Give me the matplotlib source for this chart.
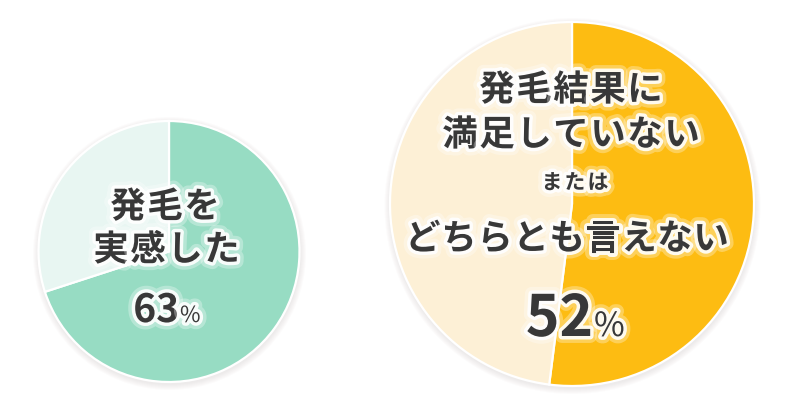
import matplotlib
matplotlib.use("Agg")
import matplotlib.pyplot as plt
import matplotlib.patheffects as pe
from matplotlib.patches import Circle

# ---- data ----
left_values = [70, 30]            # wedge shares as drawn
left_colors = ["#97dcc3", "#e8f6f2"]
left_lines = ["発毛を", "実感した"]
left_pct = "63"

right_values = [52, 48]
right_colors = ["#fdbc12", "#fdf0d6"]
right_lines = ["発毛結果に", "満足していない", "または", "どちらとも言えない"]
right_pct = "52"

W, H = 800, 410
plt.rcParams['font.family'] = ['Noto Sans CJK JP', 'DejaVu Sans']

fig = plt.figure(figsize=(W / 100, H / 100), dpi=100)
ax = fig.add_axes([0, 0, 1, 1])
ax.set_axis_off()

TXT = "#383838"
glow = [pe.Stroke(linewidth=10, foreground="white", alpha=0.3),
        pe.Stroke(linewidth=5, foreground="white", alpha=0.9),
        pe.Normal()]


def draw_pie(cx, cy, r, values, colors):
    # soft shadow
    for k in range(6, 0, -1):
        ax.add_patch(Circle((cx + 0.5, cy - 2), r + k, color="#8a7a7a",
                            alpha=0.025, lw=0, zorder=0))
    ax.pie(values, colors=colors, startangle=90, counterclock=False,
           center=(cx, cy), radius=r, frame=False,
           wedgeprops=dict(edgecolor="white", linewidth=1.6))


def spaced(xc, yc_img, s, size, pitch, weight="bold"):
    em = size * 100 / 72
    yb = (H - yc_img) - 0.38 * em
    n = len(s)
    for i, ch in enumerate(s):
        x = xc + (i - (n - 1) / 2) * pitch
        ax.text(x, yb, ch, ha="center", va="baseline", fontsize=size,
                color=TXT, weight=weight, path_effects=glow, zorder=5)


def pct(xsplit, base_img, num, size_num, size_sign):
    ax.text(xsplit, H - base_img, num, ha="right", va="baseline",
            fontsize=size_num, weight="bold", color=TXT,
            path_effects=glow, zorder=5)
    ax.text(xsplit + 1, H - base_img, "%", ha="left", va="baseline",
            fontsize=size_sign, weight="normal", color=TXT,
            path_effects=glow, zorder=5)


# left pie
draw_pie(169, H - 252.5, 130.5, left_values, left_colors)
spaced(165, 205, left_lines[0], 25.5, 37)
spaced(166.5, 248, left_lines[1], 25.5, 37)
pct(179, 323, left_pct, 28, 16)

# right pie
draw_pie(572, H - 205, 182, right_values, right_colors)
spaced(571, 88, right_lines[0], 25.5, 37)
spaced(571, 133, right_lines[1], 25.5, 37)
spaced(575, 182, right_lines[2], 15, 23)
spaced(567, 237, right_lines[3], 25.5, 36)
pct(593, 337, right_pct, 41, 24)

ax.set_xlim(0, W)
ax.set_ylim(0, H)
ax.set_aspect("auto")
fig.savefig("out.png", dpi=100, facecolor="white")
